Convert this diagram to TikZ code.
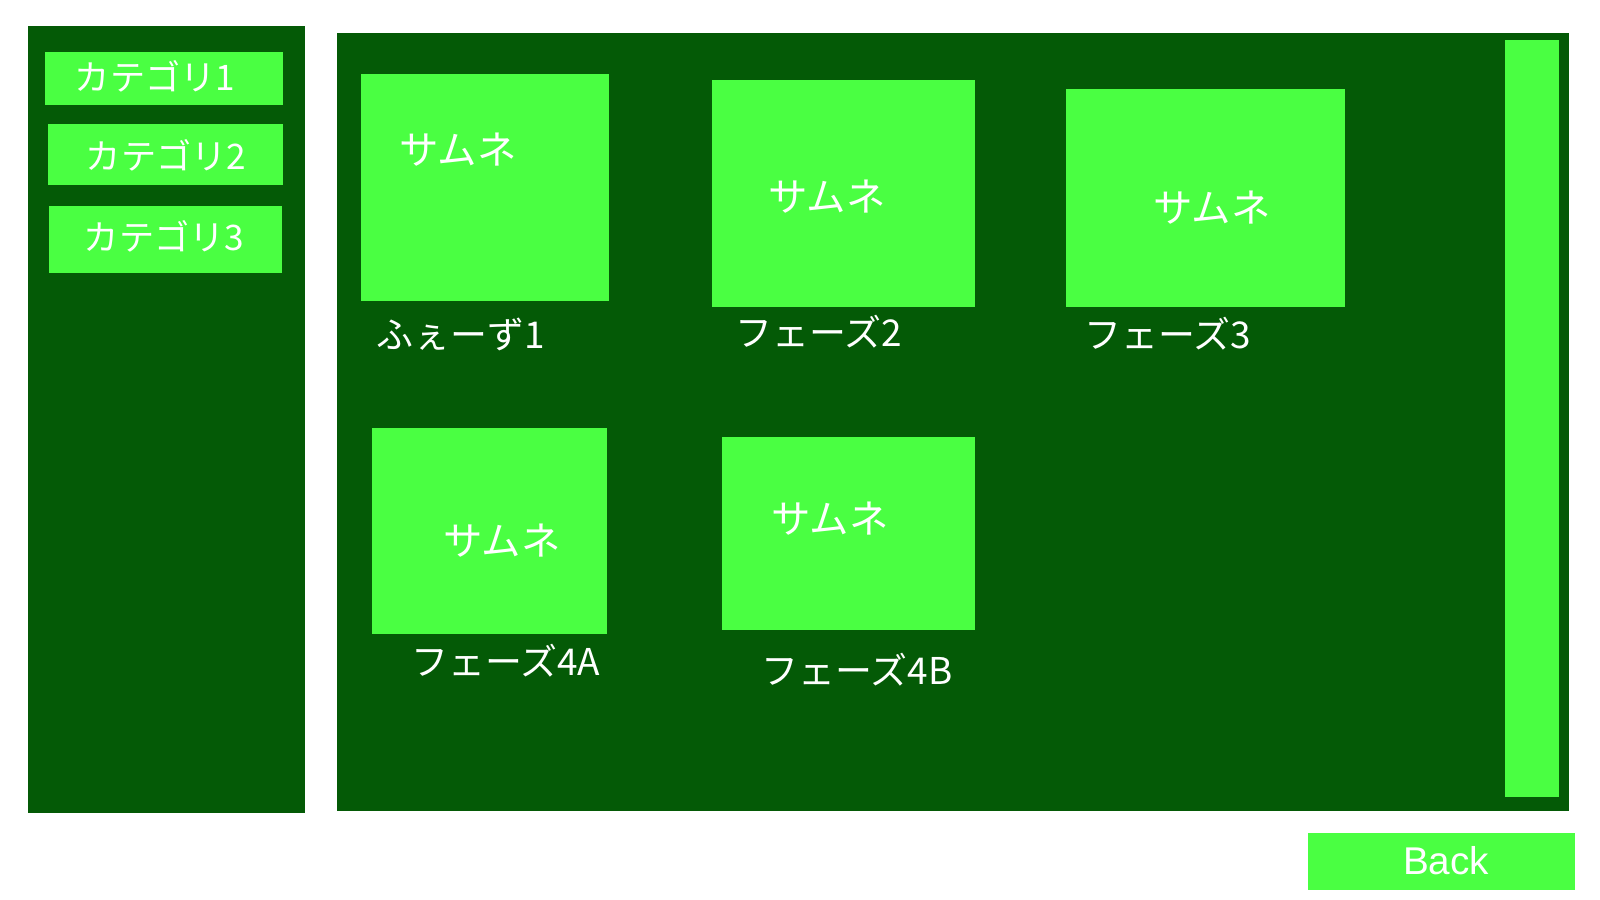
\documentclass[tikz,border=0pt]{standalone}
\usepackage{fontspec}
\usepackage{xcolor}
\setmainfont{Noto Sans CJK JP}
\newfontfamily\latinfont{Liberation Sans}
\definecolor{panelgreen}{RGB}{4,90,6}
\definecolor{boxgreen}{RGB}{74,255,66}
\tikzset{
  panel/.style={fill=panelgreen},
  box/.style={fill=boxgreen},
  caption/.style={text=white, inner sep=0pt, font=\fontsize{10.5}{12}\selectfont},
  menutext/.style={caption, font=\fontsize{10}{12}\selectfont},
  thumbtext/.style={caption, font=\fontsize{11.2}{13}\selectfont},
}

\begin{document}
\begin{tikzpicture}[x=0.01cm, y=-0.01cm]
            \useasboundingbox[fill=white] (0,0) rectangle (1600,900);

            % side menu
            \fill[panel] (28,26) rectangle (305,813);
            \fill[box] (45,52) rectangle (283,105);
            \node[menutext] (cat1) at (155,76) {カテゴリ1};
            \fill[box] (48,124) rectangle (283,185);
            \node[menutext] (cat2) at (166,155) {カテゴリ2};
            \fill[box] (49,206) rectangle (282,273);
            \node[menutext] (cat3) at (164,236) {カテゴリ3};

            % main area
            \fill[panel] (337,33) rectangle (1569,811);
            \fill[box] (1505,40) rectangle (1559,797); % scrollbar

            \fill[box] (361,74) rectangle (609,301);
            \node[thumbtext] (thumb1) at (458,150) {サムネ};
            \node[caption] (phase1) at (461,334) {ふぇーず1};

            \fill[box] (712,80) rectangle (975,307);
            \node[thumbtext] (thumb2) at (827,197) {サムネ};
            \node[caption] (phase2) at (819,332) {フェーズ2};

            \fill[box] (1066,89) rectangle (1345,307);
            \node[thumbtext] (thumb3) at (1212,208) {サムネ};
            \node[caption] (phase3) at (1168,334) {フェーズ3};

            \fill[box] (372,428) rectangle (607,634);
            \node[thumbtext] (thumb4a) at (502,541) {サムネ};
            \node[caption] (phase4a) at (506,661) {フェーズ4A};

            \fill[box] (722,437) rectangle (975,630);
            \node[thumbtext] (thumb4b) at (830,519) {サムネ};
            \node[caption] (phase4b) at (857,670) {フェーズ4B};

            % back button
            \fill[box] (1308,833) rectangle (1575,890);
            \node[caption, font=\latinfont\fontsize{11}{13}\selectfont] (back) at (1446,861) {Back};
        \end{tikzpicture}
\end{document}
